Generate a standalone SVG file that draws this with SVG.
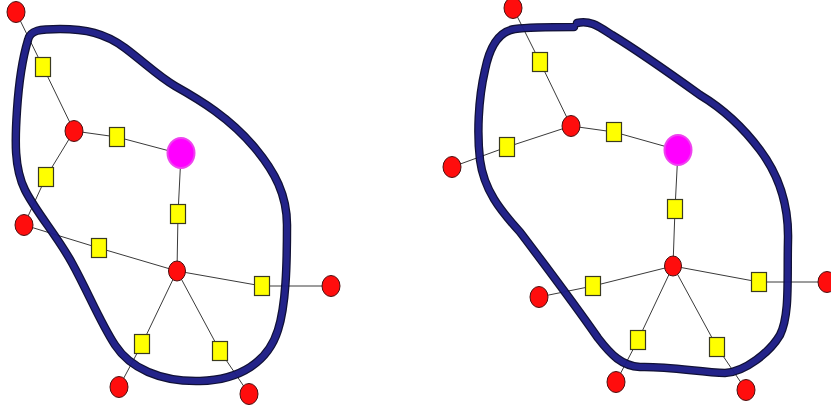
<svg xmlns="http://www.w3.org/2000/svg" width="831" height="412" viewBox="0 0 831 412">
  <style>
    .edge { stroke: #3a3a3a; stroke-width: 1; fill: none; }
    .red { fill: #ff0d0d; stroke: #4a1010; stroke-width: 1; }
    .pin { fill: #ffff00; stroke: #3a3a20; stroke-width: 1.2; }
    .mag { fill: #ff00ff; stroke: #ee44ee; stroke-width: 2; }
    .ring-out { fill: none; stroke: #0a0a30; stroke-width: 8.5; stroke-linecap: round; stroke-linejoin: round; }
    .ring-in { fill: none; stroke: #1c1c86; stroke-width: 6; stroke-linecap: round; stroke-linejoin: round; }
  </style>
  <defs>
    <rect id="sq" x="-7.5" y="-9.5" width="15" height="19" class="pin"/>
    <ellipse id="rd" rx="9" ry="10.5" class="red"/>
    <ellipse id="mg" rx="13.5" ry="15" class="mag"/>
    <path id="loopL" d="M 28,40 C 30,30 40,29 60,29 C 85,29 105,33 125,48 C 145,63 158,76 175,86 C 200,100 230,118 255,148 C 275,172 287,195 287,225 C 287,265 286,305 278,330 C 268,362 240,380 200,381 C 160,382 130,368 115,345 C 100,322 88,292 72,263 C 58,237 36,212 25,190 C 14,168 15,140 17,110 C 19,80 22,60 28,40 Z"/>
    <path id="loopR" d="M 577,23 C 590,20 598,26 612,35 C 640,52 668,72 700,95 C 725,110 745,130 760,150 C 775,170 789,200 788,240 C 787,280 790,315 780,335 C 770,352 745,372 725,373 C 700,372 665,366 640,367 C 622,366 611,355 598,338 C 575,305 545,265 520,232 C 500,210 484,190 480,160 C 477,135 478,100 485,70 C 490,45 500,31 515,29 C 530,27 560,27 574,27"/>
  </defs>
  <rect width="831" height="412" fill="#ffffff"/>

  <!-- connectors, left network -->
  <g id="edges-left">
    <polyline class="edge" points="16,12 43,67 74,131"/>
    <polyline class="edge" points="74,131 117,137 181,154"/>
    <polyline class="edge" points="74,131 46,177 24,225"/>
    <polyline class="edge" points="24,225 99,248 177,271"/>
    <polyline class="edge" points="181,154 178,214 177,271"/>
    <polyline class="edge" points="177,271 262,286 331,286"/>
    <polyline class="edge" points="177,271 142,344 119,387"/>
    <polyline class="edge" points="177,271 220,351 249,394"/>
  </g>
  <!-- connectors, right network -->
  <g id="edges-right">
    <polyline class="edge" points="513,8 540,62 571,126"/>
    <polyline class="edge" points="571,126 614,132 678,150"/>
    <polyline class="edge" points="571,126 507,147 452,167"/>
    <polyline class="edge" points="678,150 675,209 673,266"/>
    <polyline class="edge" points="673,266 593,286 539,297"/>
    <polyline class="edge" points="673,266 759,282 827,282"/>
    <polyline class="edge" points="673,266 638,340 616,382"/>
    <polyline class="edge" points="673,266 717,347 746,390"/>
  </g>

  <!-- left network nodes -->
  <g id="L-r1"><use href="#rd" x="16" y="12"/></g>
  <g id="L-s1"><use href="#sq" x="43" y="67"/></g>
  <g id="L-r2"><use href="#rd" x="74" y="131"/></g>
  <g id="L-s2"><use href="#sq" x="117" y="137"/></g>
  <g id="L-m"><use href="#mg" x="181" y="153"/></g>
  <g id="L-s3"><use href="#sq" x="46" y="177"/></g>
  <g id="L-r3"><use href="#rd" x="24" y="225"/></g>
  <g id="L-s4"><use href="#sq" x="99" y="248"/></g>
  <g id="L-s5"><use href="#sq" x="178" y="214"/></g>
  <g id="L-hub"><ellipse class="red" cx="177" cy="271" rx="8.5" ry="10"/></g>
  <g id="L-s6"><use href="#sq" x="262" y="286"/></g>
  <g id="L-r4"><use href="#rd" x="331" y="286"/></g>
  <g id="L-s7"><use href="#sq" x="142" y="344"/></g>
  <g id="L-s8"><use href="#sq" x="220" y="351"/></g>
  <g id="L-r5"><use href="#rd" x="119" y="387"/></g>
  <g id="L-r6"><use href="#rd" x="249" y="394"/></g>

  <!-- right network nodes -->
  <g id="R-r1"><use href="#rd" x="513" y="8"/></g>
  <g id="R-s1"><use href="#sq" x="540" y="62"/></g>
  <g id="R-r2"><use href="#rd" x="571" y="126"/></g>
  <g id="R-s2"><use href="#sq" x="614" y="132"/></g>
  <g id="R-m"><use href="#mg" x="678" y="150"/></g>
  <g id="R-s3"><use href="#sq" x="507" y="147"/></g>
  <g id="R-r3"><use href="#rd" x="452" y="167"/></g>
  <g id="R-s4"><use href="#sq" x="675" y="209"/></g>
  <g id="R-hub"><ellipse class="red" cx="673" cy="266" rx="8.5" ry="10"/></g>
  <g id="R-s5"><use href="#sq" x="593" y="286"/></g>
  <g id="R-r4"><use href="#rd" x="539" y="297"/></g>
  <g id="R-s6"><use href="#sq" x="759" y="282"/></g>
  <g id="R-r5"><use href="#rd" x="827" y="282"/></g>
  <g id="R-s7"><use href="#sq" x="638" y="340"/></g>
  <g id="R-s8"><use href="#sq" x="717" y="347"/></g>
  <g id="R-r6"><use href="#rd" x="616" y="382"/></g>
  <g id="R-r7"><use href="#rd" x="746" y="390"/></g>

  <!-- hand-drawn boundary loops: dark rim under a navy core -->
  <g id="loop-left" opacity="0.97">
    <use href="#loopL" class="ring-out"/>
    <use href="#loopL" class="ring-in"/>
  </g>
  <g id="loop-right" opacity="0.97">
    <use href="#loopR" class="ring-out"/>
    <use href="#loopR" class="ring-in"/>
  </g>
</svg>
